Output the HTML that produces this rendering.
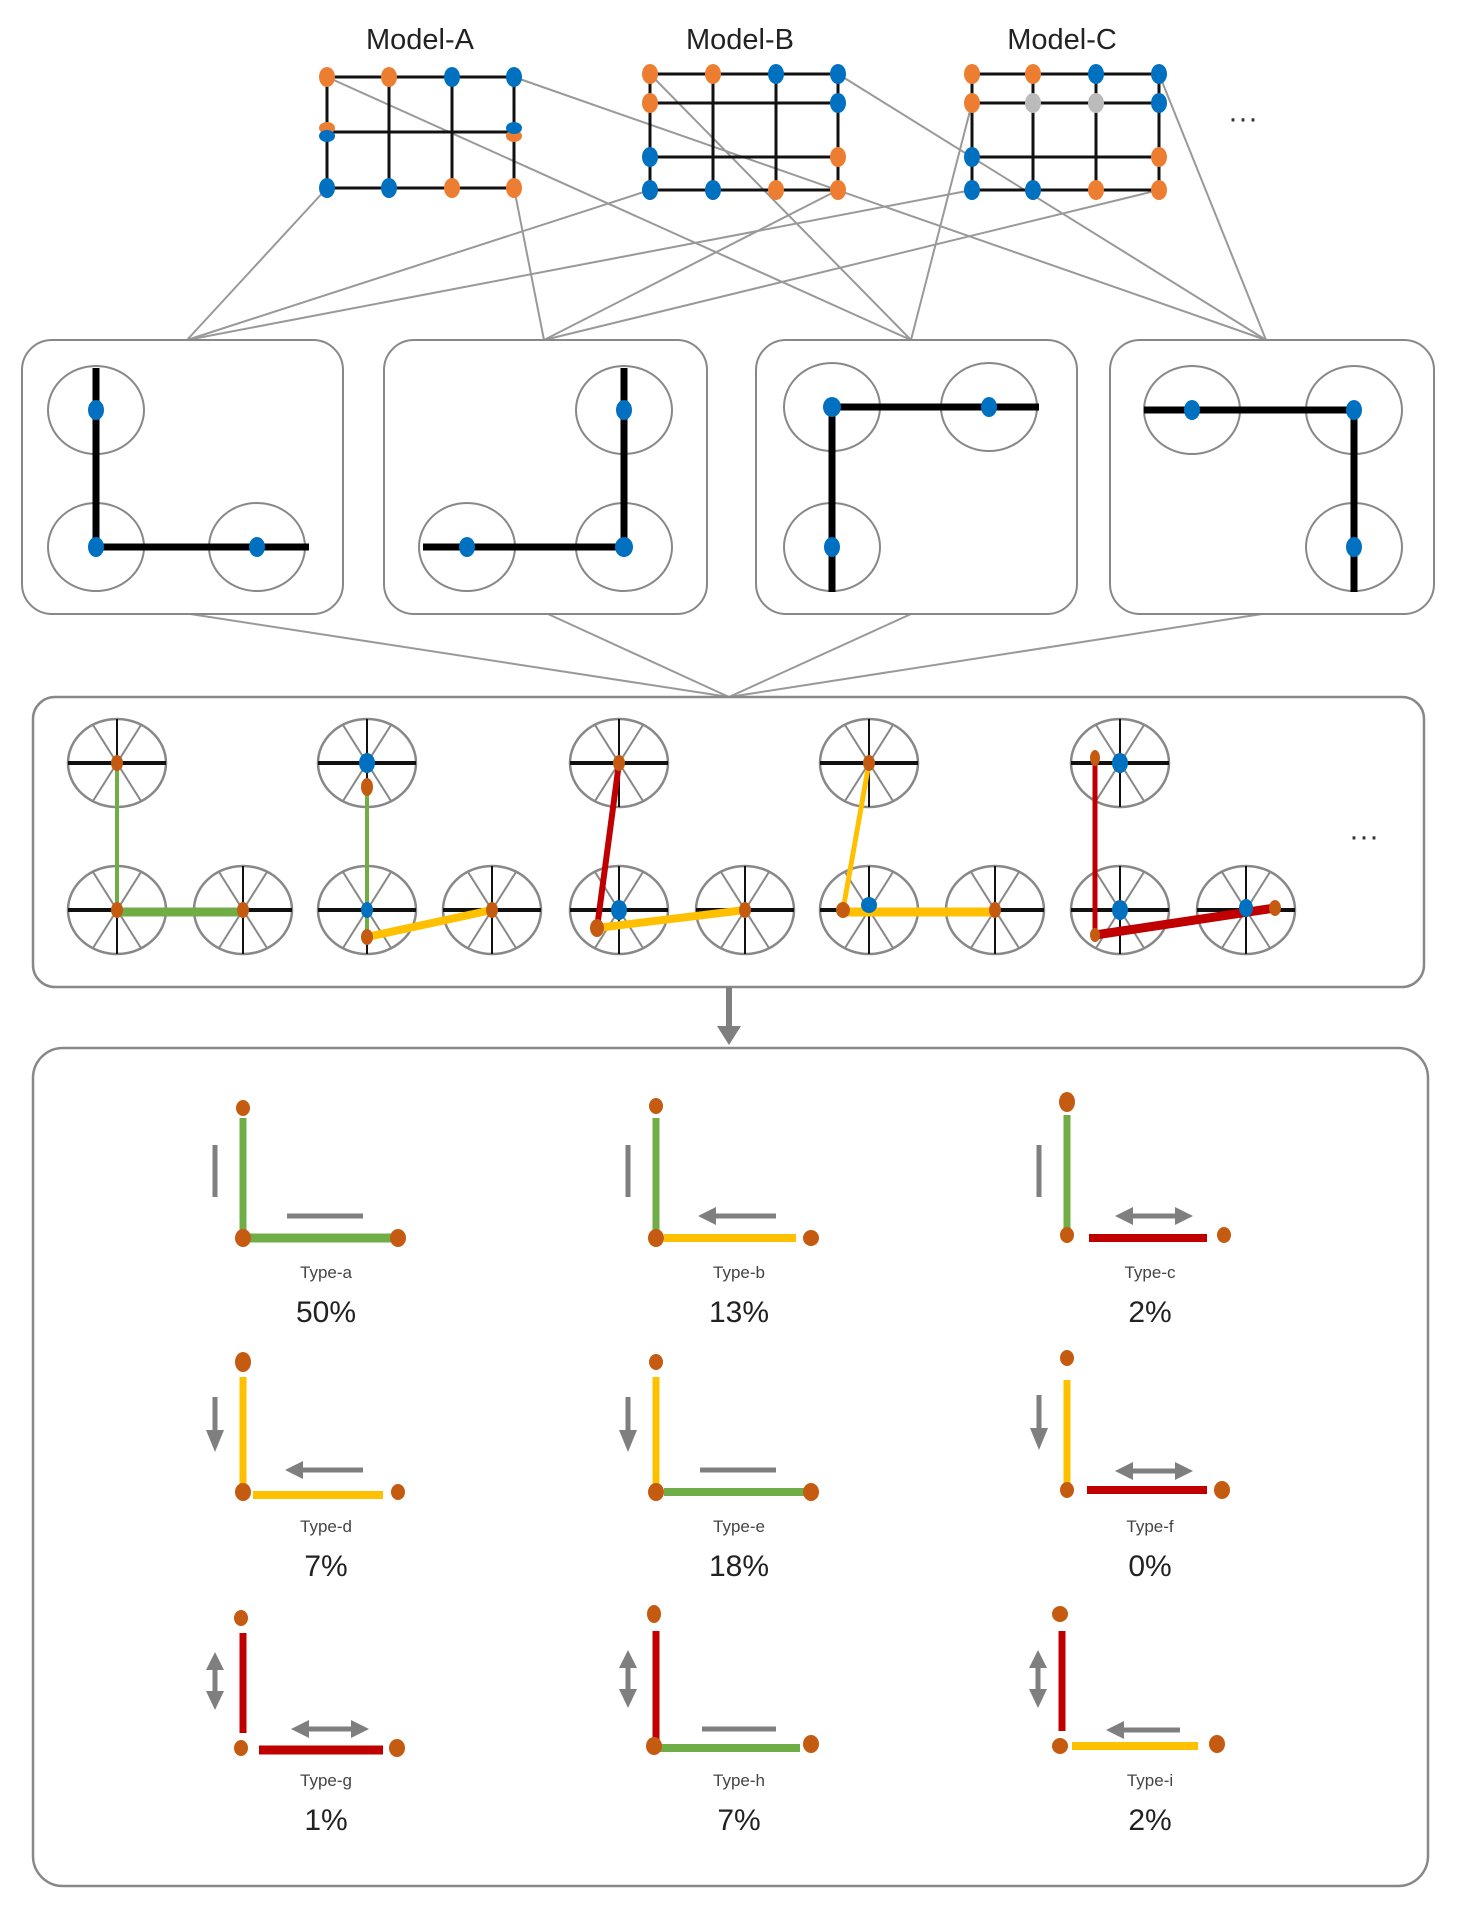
<!DOCTYPE html>
<html><head><meta charset="utf-8"><style>html,body{margin:0;padding:0;background:#fff}svg{display:block}</style></head>
<body>
<svg width="1458" height="1907" viewBox="0 0 1458 1907" xmlns="http://www.w3.org/2000/svg" font-family="Liberation Sans, sans-serif">
<defs>
<marker id="ah" markerWidth="4" markerHeight="4" refX="2" refY="2" orient="auto" markerUnits="strokeWidth"><path d="M0,0 L4,2 L0,4 z" fill="#7f7f7f"/></marker>
</defs>
<!-- connectors top -->
<g stroke="#999" stroke-width="2" fill="none">
<line x1="327" y1="188" x2="187" y2="340"/>
<line x1="327" y1="77" x2="911" y2="340"/>
<line x1="514" y1="77" x2="1266" y2="340"/>
<line x1="514" y1="188" x2="544" y2="340"/>
<line x1="650" y1="74" x2="911" y2="340"/>
<line x1="838" y1="74" x2="1266" y2="340"/>
<line x1="650" y1="190" x2="187" y2="340"/>
<line x1="838" y1="190" x2="544" y2="340"/>
<line x1="972" y1="103" x2="911" y2="340"/>
<line x1="1159" y1="74" x2="1266" y2="340"/>
<line x1="972" y1="190" x2="187" y2="340"/>
<line x1="1159" y1="190" x2="544" y2="340"/>
<line x1="190" y1="614" x2="729" y2="697"/>
<line x1="548" y1="614" x2="729" y2="697"/>
<line x1="911" y1="614" x2="729" y2="697"/>
<line x1="1262" y1="614" x2="729" y2="697"/>
</g>
<!-- labels -->
<g font-size="29" fill="#222" text-anchor="middle">
<text x="420" y="49">Model-A</text><text x="740" y="49">Model-B</text><text x="1062" y="49">Model-C</text>
</g>
<text x="1243" y="128" font-size="30" fill="#333" text-anchor="middle">···</text>
<!-- grids -->
<g stroke="#111" stroke-width="3">
<line x1="327" y1="77" x2="514" y2="77"/><line x1="327" y1="132" x2="514" y2="132"/><line x1="327" y1="188" x2="514" y2="188"/>
<line x1="327" y1="77" x2="327" y2="188"/><line x1="389" y1="77" x2="389" y2="188"/><line x1="452" y1="77" x2="452" y2="188"/><line x1="514" y1="77" x2="514" y2="188"/>
<line x1="650" y1="74" x2="838" y2="74"/><line x1="650" y1="103" x2="838" y2="103"/><line x1="650" y1="157" x2="838" y2="157"/><line x1="650" y1="190" x2="838" y2="190"/>
<line x1="650" y1="74" x2="650" y2="190"/><line x1="713" y1="74" x2="713" y2="190"/><line x1="776" y1="74" x2="776" y2="190"/><line x1="838" y1="74" x2="838" y2="190"/>
<line x1="972" y1="74" x2="1159" y2="74"/><line x1="972" y1="103" x2="1159" y2="103"/><line x1="972" y1="157" x2="1159" y2="157"/><line x1="972" y1="190" x2="1159" y2="190"/>
<line x1="972" y1="74" x2="972" y2="190"/><line x1="1033" y1="74" x2="1033" y2="190"/><line x1="1096" y1="74" x2="1096" y2="190"/><line x1="1159" y1="74" x2="1159" y2="190"/>
</g>
<g>
<g fill="#ed7d31"><ellipse cx="327" cy="77" rx="8" ry="10"/><ellipse cx="389" cy="77" rx="8" ry="10"/><ellipse cx="452" cy="188" rx="8" ry="10"/><ellipse cx="514" cy="188" rx="8" ry="10"/><ellipse cx="327" cy="128" rx="8" ry="6"/><ellipse cx="514" cy="136" rx="8" ry="6"/>
<ellipse cx="650" cy="74" rx="8" ry="10"/><ellipse cx="713" cy="74" rx="8" ry="10"/><ellipse cx="650" cy="103" rx="8" ry="10"/><ellipse cx="838" cy="157" rx="8" ry="10"/><ellipse cx="776" cy="190" rx="8" ry="10"/><ellipse cx="838" cy="190" rx="8" ry="10"/>
<ellipse cx="972" cy="74" rx="8" ry="10"/><ellipse cx="1033" cy="74" rx="8" ry="10"/><ellipse cx="972" cy="103" rx="8" ry="10"/><ellipse cx="1159" cy="157" rx="8" ry="10"/><ellipse cx="1096" cy="190" rx="8" ry="10"/><ellipse cx="1159" cy="190" rx="8" ry="10"/></g>
<g fill="#0070c0"><ellipse cx="452" cy="77" rx="8" ry="10"/><ellipse cx="514" cy="77" rx="8" ry="10"/><ellipse cx="327" cy="188" rx="8" ry="10"/><ellipse cx="389" cy="188" rx="8" ry="10"/><ellipse cx="327" cy="136" rx="8" ry="6"/><ellipse cx="514" cy="128" rx="8" ry="6"/>
<ellipse cx="776" cy="74" rx="8" ry="10"/><ellipse cx="838" cy="74" rx="8" ry="10"/><ellipse cx="838" cy="103" rx="8" ry="10"/><ellipse cx="650" cy="157" rx="8" ry="10"/><ellipse cx="650" cy="190" rx="8" ry="10"/><ellipse cx="713" cy="190" rx="8" ry="10"/>
<ellipse cx="1096" cy="74" rx="8" ry="10"/><ellipse cx="1159" cy="74" rx="8" ry="10"/><ellipse cx="1159" cy="103" rx="8" ry="10"/><ellipse cx="972" cy="157" rx="8" ry="10"/><ellipse cx="972" cy="190" rx="8" ry="10"/><ellipse cx="1033" cy="190" rx="8" ry="10"/></g>
<g fill="#bbb"><ellipse cx="1033" cy="103" rx="8" ry="10"/><ellipse cx="1096" cy="103" rx="8" ry="10"/></g>
</g>
<!-- second row boxes -->
<g fill="#fff" stroke="#888" stroke-width="2">
<rect x="22" y="340" width="321" height="274" rx="30"/>
<rect x="384" y="340" width="323" height="274" rx="30"/>
<rect x="756" y="340" width="321" height="274" rx="30"/>
<rect x="1110" y="340" width="324" height="274" rx="30"/>
<ellipse cx="96" cy="410" rx="48" ry="44"/><ellipse cx="96" cy="547" rx="48" ry="44"/><ellipse cx="257" cy="547" rx="48" ry="44"/>
<ellipse cx="624" cy="410" rx="48" ry="44"/><ellipse cx="624" cy="547" rx="48" ry="44"/><ellipse cx="467" cy="547" rx="48" ry="44"/>
<ellipse cx="832" cy="407" rx="48" ry="44"/><ellipse cx="989" cy="407" rx="48" ry="44"/><ellipse cx="832" cy="547" rx="48" ry="44"/>
<ellipse cx="1192" cy="410" rx="48" ry="44"/><ellipse cx="1354" cy="410" rx="48" ry="44"/><ellipse cx="1354" cy="547" rx="48" ry="44"/>
</g>
<g stroke="#000" stroke-width="7" fill="none">
<polyline points="96,368 96,547 309,547"/>
<polyline points="624,368 624,547 423,547"/>
<polyline points="1039,407 832,407 832,592"/>
<polyline points="1144,410 1354,410 1354,592"/>
</g>
<g fill="#0070c0">
<ellipse cx="96" cy="410" rx="8" ry="10"/><ellipse cx="96" cy="547" rx="8" ry="10"/><ellipse cx="257" cy="547" rx="8" ry="10"/>
<ellipse cx="624" cy="410" rx="8" ry="10"/><ellipse cx="624" cy="547" rx="9" ry="10"/><ellipse cx="467" cy="547" rx="8" ry="10"/>
<ellipse cx="832" cy="407" rx="9" ry="10"/><ellipse cx="989" cy="407" rx="8" ry="10"/><ellipse cx="832" cy="547" rx="8" ry="10"/>
<ellipse cx="1192" cy="410" rx="8" ry="10"/><ellipse cx="1354" cy="410" rx="8" ry="10"/><ellipse cx="1354" cy="547" rx="8" ry="10"/>
</g>
<!-- third box -->
<rect x="33" y="697" width="1391" height="290" rx="22" fill="none" stroke="#888" stroke-width="2.5"/>
<g id="wheels" stroke-width="2">
<g id="w1" transform="translate(117,763)"><ellipse rx="49" ry="44" fill="#fff" stroke="#888" stroke-width="2.5"/><line x1="-24" y1="-38" x2="24" y2="38" stroke="#888"/><line x1="24" y1="-38" x2="-24" y2="38" stroke="#888"/><line x1="0" y1="-44" x2="0" y2="44" stroke="#111"/><line x1="-49" y1="0" x2="49" y2="0" stroke="#111" stroke-width="4"/></g>
<use href="#w1" x="250" y="0"/><use href="#w1" x="502" y="0"/><use href="#w1" x="752" y="0"/><use href="#w1" x="1003" y="0"/>
<use href="#w1" x="0" y="147"/><use href="#w1" x="126" y="147"/><use href="#w1" x="250" y="147"/><use href="#w1" x="375" y="147"/>
<use href="#w1" x="502" y="147"/><use href="#w1" x="628" y="147"/><use href="#w1" x="752" y="147"/><use href="#w1" x="878" y="147"/>
<use href="#w1" x="1003" y="147"/><use href="#w1" x="1129" y="147"/>
</g>
<g fill="none" stroke-linecap="round">
<line x1="117" y1="763" x2="117" y2="910" stroke="#70ad47" stroke-width="4"/>
<line x1="117" y1="912" x2="243" y2="912" stroke="#70ad47" stroke-width="9"/>
<line x1="367" y1="787" x2="367" y2="937" stroke="#70ad47" stroke-width="4"/>
<line x1="367" y1="937" x2="492" y2="910" stroke="#ffc000" stroke-width="8"/>
<line x1="619" y1="763" x2="597" y2="928" stroke="#c00000" stroke-width="6"/>
<line x1="597" y1="928" x2="745" y2="910" stroke="#ffc000" stroke-width="8"/>
<line x1="869" y1="763" x2="843" y2="910" stroke="#ffc000" stroke-width="5"/>
<line x1="843" y1="912" x2="995" y2="912" stroke="#ffc000" stroke-width="9"/>
<line x1="1095" y1="758" x2="1095" y2="935" stroke="#c00000" stroke-width="5"/>
<line x1="1095" y1="935" x2="1275" y2="908" stroke="#c00000" stroke-width="9"/>
</g>
<g fill="#c55a11">
<ellipse cx="117" cy="763" rx="6" ry="8"/><ellipse cx="117" cy="910" rx="6" ry="8"/><ellipse cx="243" cy="910" rx="6" ry="8"/>
<ellipse cx="367" cy="787" rx="6" ry="9"/><ellipse cx="367" cy="937" rx="6" ry="8"/><ellipse cx="492" cy="910" rx="6" ry="8"/>
<ellipse cx="619" cy="763" rx="6" ry="8"/><ellipse cx="597" cy="928" rx="7" ry="9"/><ellipse cx="745" cy="910" rx="6" ry="8"/>
<ellipse cx="869" cy="763" rx="6" ry="8"/><ellipse cx="843" cy="910" rx="7" ry="8"/><ellipse cx="995" cy="910" rx="6" ry="8"/>
<ellipse cx="1095" cy="758" rx="5" ry="8"/><ellipse cx="1095" cy="935" rx="5" ry="7"/><ellipse cx="1275" cy="908" rx="6" ry="8"/>
</g>
<g fill="#0070c0">
<ellipse cx="367" cy="763" rx="8" ry="10"/><ellipse cx="367" cy="910" rx="6" ry="8"/><ellipse cx="619" cy="910" rx="8" ry="10"/><ellipse cx="869" cy="905" rx="8" ry="8"/>
<ellipse cx="1120" cy="763" rx="8" ry="10"/><ellipse cx="1120" cy="910" rx="8" ry="10"/><ellipse cx="1246" cy="908" rx="7" ry="9"/>
</g>
<text x="1364" y="846" font-size="30" fill="#333" text-anchor="middle">···</text>
<!-- arrow down -->
<line x1="729" y1="987" x2="729" y2="1030" stroke="#7f7f7f" stroke-width="6"/>
<path d="M717,1026 L741,1026 L729,1045 z" fill="#7f7f7f"/>
<!-- bottom box -->
<rect x="33" y="1048" width="1395" height="838" rx="30" fill="none" stroke="#888" stroke-width="2.5"/>
<g font-family="Liberation Sans, sans-serif" text-anchor="middle">
<!-- type template params: corner (cx,cy) -->
<!-- Type-a -->
<g transform="translate(243,1238)">
<line x1="0" y1="-120" x2="0" y2="0" stroke="#70ad47" stroke-width="7"/><line x1="0" y1="0" x2="152" y2="0" stroke="#70ad47" stroke-width="9"/>
<line x1="-28" y1="-93" x2="-28" y2="-41" stroke="#7f7f7f" stroke-width="5"/><line x1="44" y1="-22" x2="120" y2="-22" stroke="#7f7f7f" stroke-width="5"/>
<g fill="#c55a11"><ellipse cx="0" cy="-130" rx="7" ry="8"/><ellipse cx="0" cy="0" rx="8" ry="9"/><ellipse cx="155" cy="0" rx="8" ry="9"/></g>
<text x="83" y="40" font-size="17" fill="#444">Type-a</text><text x="83" y="84" font-size="30" fill="#222">50%</text></g>
<!-- Type-b -->
<g transform="translate(656,1238)">
<line x1="0" y1="-120" x2="0" y2="0" stroke="#70ad47" stroke-width="7"/><line x1="8" y1="0" x2="140" y2="0" stroke="#ffc000" stroke-width="8"/>
<line x1="-28" y1="-93" x2="-28" y2="-41" stroke="#7f7f7f" stroke-width="5"/><line x1="58" y1="-22" x2="120" y2="-22" stroke="#7f7f7f" stroke-width="5"/><path d="M42,-22 L60,-31 L60,-13 z" fill="#7f7f7f"/>
<g fill="#c55a11"><ellipse cx="0" cy="-132" rx="7" ry="8"/><ellipse cx="0" cy="0" rx="8" ry="9"/><ellipse cx="155" cy="0" rx="8" ry="8"/></g>
<text x="83" y="40" font-size="17" fill="#444">Type-b</text><text x="83" y="84" font-size="30" fill="#222">13%</text></g>
<!-- Type-c -->
<g transform="translate(1067,1235)">
<line x1="0" y1="-120" x2="0" y2="0" stroke="#70ad47" stroke-width="7"/><line x1="22" y1="3" x2="140" y2="3" stroke="#c00000" stroke-width="8"/>
<line x1="-28" y1="-90" x2="-28" y2="-38" stroke="#7f7f7f" stroke-width="5"/><line x1="64" y1="-19" x2="110" y2="-19" stroke="#7f7f7f" stroke-width="5"/><path d="M48,-19 L66,-28 L66,-10 z M126,-19 L108,-28 L108,-10 z" fill="#7f7f7f"/>
<g fill="#c55a11"><ellipse cx="0" cy="-133" rx="8" ry="10"/><ellipse cx="0" cy="0" rx="7" ry="8"/><ellipse cx="157" cy="0" rx="7" ry="8"/></g>
<text x="83" y="43" font-size="17" fill="#444">Type-c</text><text x="83" y="87" font-size="30" fill="#222">2%</text></g>
<!-- Type-d -->
<g transform="translate(243,1492)">
<line x1="0" y1="-115" x2="0" y2="0" stroke="#ffc000" stroke-width="7"/><line x1="10" y1="3" x2="140" y2="3" stroke="#ffc000" stroke-width="8"/>
<line x1="-28" y1="-95" x2="-28" y2="-60" stroke="#7f7f7f" stroke-width="5"/><path d="M-28,-40 L-37,-62 L-19,-62 z" fill="#7f7f7f"/>
<line x1="58" y1="-22" x2="120" y2="-22" stroke="#7f7f7f" stroke-width="5"/><path d="M42,-22 L60,-31 L60,-13 z" fill="#7f7f7f"/>
<g fill="#c55a11"><ellipse cx="0" cy="-130" rx="8" ry="10"/><ellipse cx="0" cy="0" rx="8" ry="9"/><ellipse cx="155" cy="0" rx="7" ry="8"/></g>
<text x="83" y="40" font-size="17" fill="#444">Type-d</text><text x="83" y="84" font-size="30" fill="#222">7%</text></g>
<!-- Type-e -->
<g transform="translate(656,1492)">
<line x1="0" y1="-115" x2="0" y2="0" stroke="#ffc000" stroke-width="7"/><line x1="8" y1="0" x2="155" y2="0" stroke="#70ad47" stroke-width="8"/>
<line x1="-28" y1="-95" x2="-28" y2="-60" stroke="#7f7f7f" stroke-width="5"/><path d="M-28,-40 L-37,-62 L-19,-62 z" fill="#7f7f7f"/>
<line x1="44" y1="-22" x2="120" y2="-22" stroke="#7f7f7f" stroke-width="5"/>
<g fill="#c55a11"><ellipse cx="0" cy="-130" rx="7" ry="8"/><ellipse cx="0" cy="0" rx="8" ry="9"/><ellipse cx="155" cy="0" rx="8" ry="9"/></g>
<text x="83" y="40" font-size="17" fill="#444">Type-e</text><text x="83" y="84" font-size="30" fill="#222">18%</text></g>
<!-- Type-f -->
<g transform="translate(1067,1490)">
<line x1="0" y1="-110" x2="0" y2="0" stroke="#ffc000" stroke-width="7"/><line x1="20" y1="0" x2="140" y2="0" stroke="#c00000" stroke-width="8"/>
<line x1="-28" y1="-95" x2="-28" y2="-60" stroke="#7f7f7f" stroke-width="5"/><path d="M-28,-40 L-37,-62 L-19,-62 z" fill="#7f7f7f"/>
<line x1="64" y1="-19" x2="110" y2="-19" stroke="#7f7f7f" stroke-width="5"/><path d="M48,-19 L66,-28 L66,-10 z M126,-19 L108,-28 L108,-10 z" fill="#7f7f7f"/>
<g fill="#c55a11"><ellipse cx="0" cy="-132" rx="7" ry="8"/><ellipse cx="0" cy="0" rx="7" ry="8"/><ellipse cx="155" cy="0" rx="8" ry="9"/></g>
<text x="83" y="42" font-size="17" fill="#444">Type-f</text><text x="83" y="86" font-size="30" fill="#222">0%</text></g>
<!-- Type-g -->
<g transform="translate(241,1748)">
<line x1="2" y1="-115" x2="2" y2="-15" stroke="#c00000" stroke-width="7"/><line x1="18" y1="2" x2="142" y2="2" stroke="#c00000" stroke-width="9"/>
<line x1="-26" y1="-80" x2="-26" y2="-55" stroke="#7f7f7f" stroke-width="5"/><path d="M-26,-96 L-35,-78 L-17,-78 z M-26,-38 L-35,-57 L-17,-57 z" fill="#7f7f7f"/>
<line x1="66" y1="-19" x2="112" y2="-19" stroke="#7f7f7f" stroke-width="5"/><path d="M50,-19 L68,-28 L68,-10 z M128,-19 L110,-28 L110,-10 z" fill="#7f7f7f"/>
<g fill="#c55a11"><ellipse cx="0" cy="-130" rx="7" ry="8"/><ellipse cx="0" cy="0" rx="7" ry="8"/><ellipse cx="156" cy="0" rx="8" ry="9"/></g>
<text x="85" y="38" font-size="17" fill="#444">Type-g</text><text x="85" y="82" font-size="30" fill="#222">1%</text></g>
<!-- Type-h -->
<g transform="translate(654,1746)">
<line x1="2" y1="-115" x2="2" y2="-5" stroke="#c00000" stroke-width="7"/><line x1="6" y1="2" x2="146" y2="2" stroke="#70ad47" stroke-width="8"/>
<line x1="-26" y1="-80" x2="-26" y2="-55" stroke="#7f7f7f" stroke-width="5"/><path d="M-26,-96 L-35,-78 L-17,-78 z M-26,-38 L-35,-57 L-17,-57 z" fill="#7f7f7f"/>
<line x1="48" y1="-17" x2="122" y2="-17" stroke="#7f7f7f" stroke-width="5"/>
<g fill="#c55a11"><ellipse cx="0" cy="-132" rx="7" ry="9"/><ellipse cx="0" cy="0" rx="8" ry="9"/><ellipse cx="157" cy="-2" rx="8" ry="9"/></g>
<text x="85" y="40" font-size="17" fill="#444">Type-h</text><text x="85" y="84" font-size="30" fill="#222">7%</text></g>
<!-- Type-i -->
<g transform="translate(1060,1746)">
<line x1="2" y1="-115" x2="2" y2="-15" stroke="#c00000" stroke-width="7"/><line x1="12" y1="0" x2="138" y2="0" stroke="#ffc000" stroke-width="8"/>
<line x1="-22" y1="-80" x2="-22" y2="-55" stroke="#7f7f7f" stroke-width="5"/><path d="M-22,-96 L-31,-78 L-13,-78 z M-22,-38 L-31,-57 L-13,-57 z" fill="#7f7f7f"/>
<line x1="62" y1="-16" x2="120" y2="-16" stroke="#7f7f7f" stroke-width="5"/><path d="M46,-16 L64,-25 L64,-7 z" fill="#7f7f7f"/>
<g fill="#c55a11"><ellipse cx="0" cy="-132" rx="8" ry="8"/><ellipse cx="0" cy="0" rx="8" ry="8"/><ellipse cx="157" cy="-2" rx="8" ry="9"/></g>
<text x="90" y="40" font-size="17" fill="#444">Type-i</text><text x="90" y="84" font-size="30" fill="#222">2%</text></g>
</g>
</svg>
</body></html>
